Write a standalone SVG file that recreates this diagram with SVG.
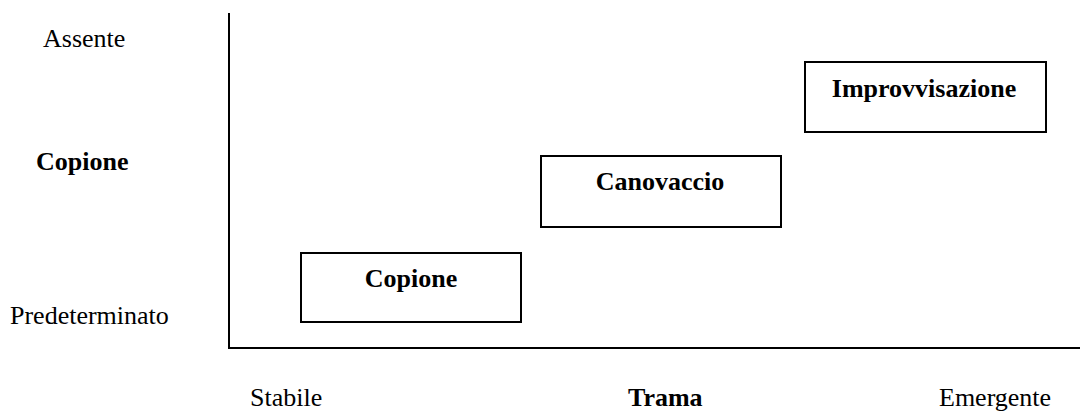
<svg xmlns="http://www.w3.org/2000/svg" width="1080" height="412" viewBox="0 0 1080 412">
<style>
  text { font-family: "Liberation Serif", "Times New Roman", serif; font-size: 26px; fill: #000; }
  .b { font-weight: bold; }
  .box { fill: #fff; stroke: #000; stroke-width: 2; }
  .axis { stroke: #000; stroke-width: 2; fill: none; }
</style>
<rect width="1080" height="412" fill="#fff"/>
<g id="axes">
  <line class="axis" x1="229" y1="13" x2="229" y2="348"/>
  <line class="axis" x1="228" y1="348" x2="1080" y2="348"/>
</g>
<g id="labels-y">
  <text x="43" y="47">Assente</text>
  <text x="36" y="170" class="b">Copione</text>
  <text x="10" y="324">Predeterminato</text>
</g>
<g id="labels-x">
  <text x="250" y="406">Stabile</text>
  <text x="628" y="406" class="b">Trama</text>
  <text x="939" y="406">Emergente</text>
</g>
<g id="node-copione">
  <rect class="box" x="301" y="253" width="220" height="69"/>
  <text x="411" y="287" class="b" text-anchor="middle">Copione</text>
</g>
<g id="node-canovaccio">
  <rect class="box" x="541" y="156" width="240" height="71"/>
  <text x="660" y="190" class="b" text-anchor="middle">Canovaccio</text>
</g>
<g id="node-improvvisazione">
  <rect class="box" x="805" y="62" width="241" height="70"/>
  <text x="924" y="97" class="b" text-anchor="middle">Improvvisazione</text>
</g>
</svg>
